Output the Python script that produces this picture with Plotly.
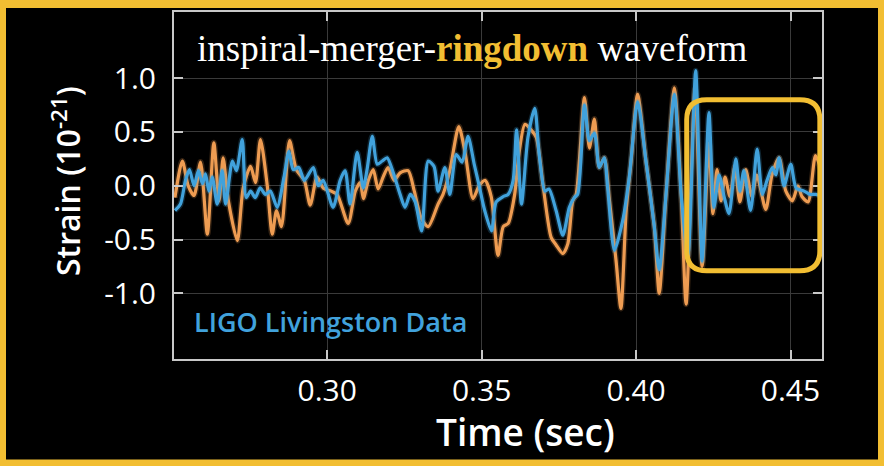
import plotly.graph_objects as go

# LIGO Livingston strain around GW150914 (units of 1e-21), orange and blue traces
t_orange = [
    0.2507, 0.2531, 0.2550, 0.2569, 0.2590, 0.2612, 0.2633, 0.2650, 0.2663, 0.2680,
    0.2709, 0.2728, 0.2752, 0.2768, 0.2784, 0.2806, 0.2822, 0.2836, 0.2852, 0.2878,
    0.2900, 0.2926, 0.2945, 0.2967, 0.2987, 0.3013, 0.3032, 0.3068, 0.3091, 0.3107,
    0.3117, 0.3133, 0.3149, 0.3165, 0.3181, 0.3197, 0.3217, 0.3236, 0.3262, 0.3282,
    0.3304, 0.3327, 0.3359, 0.3375, 0.3397, 0.3426, 0.3447, 0.3472, 0.3492, 0.3511,
    0.3531, 0.3553, 0.3570, 0.3586, 0.3607, 0.3621, 0.3640, 0.3660, 0.3677, 0.3699,
    0.3725, 0.3741, 0.3763, 0.3779, 0.3795, 0.3806, 0.3833, 0.3849, 0.3865, 0.3881,
    0.3897, 0.3914, 0.3935, 0.3951, 0.3968, 0.3984, 0.4005, 0.4032, 0.4059, 0.4075,
    0.4097, 0.4124, 0.4146, 0.4162, 0.4191, 0.4214, 0.4236, 0.4249, 0.4262, 0.4275,
    0.4288, 0.4304, 0.4320, 0.4336, 0.4355, 0.4375, 0.4391, 0.4420, 0.4440, 0.4463,
    0.4485, 0.4506, 0.4524, 0.4537, 0.4557, 0.4581, 0.4599,
]
strain_orange = [
    -0.11, 0.23, 0.00, -0.09, 0.22, -0.45, 0.40, -0.14, 0.26, -0.14,
    -0.51, -0.02, 0.18, 0.03, 0.43, 0.00, -0.45, -0.23, -0.38, 0.42,
    0.15, 0.05, -0.18, 0.08, -0.02, -0.05, -0.08, -0.35, -0.05, 0.03,
    -0.12, 0.05, 0.15, -0.03, 0.08, 0.17, 0.05, 0.12, 0.14, -0.05,
    -0.30, -0.38, -0.17, -0.08, 0.14, 0.55, 0.30, -0.12, 0.00, 0.05,
    -0.10, -0.65, -0.38, -0.35, -0.08, 0.30, 0.57, 0.52, 0.45, 0.00,
    -0.48, -0.55, -0.63, -0.54, -0.14, -0.08, 0.82, 0.35, 0.62, 0.17,
    0.26, -0.14, -0.69, -1.14, -0.23, 0.23, 0.85, 0.23, -0.38, -1.00,
    -0.08, 0.91, -0.08, -1.10, 0.90, -0.75, 0.40, -0.26, 0.15, -0.14,
    0.08, -0.10, 0.18, -0.15, 0.15, -0.10, 0.10, -0.22, 0.10, 0.26,
    -0.05, -0.14, 0.00, -0.10, -0.15, 0.28, 0.15,
]

t_blue = [
    0.2507, 0.2525, 0.2541, 0.2554, 0.2569, 0.2583, 0.2596, 0.2606, 0.2617, 0.2628,
    0.2644, 0.2660, 0.2671, 0.2693, 0.2706, 0.2725, 0.2738, 0.2752, 0.2767, 0.2783,
    0.2800, 0.2816, 0.2838, 0.2860, 0.2876, 0.2890, 0.2908, 0.2926, 0.2955, 0.2971,
    0.2987, 0.3019, 0.3042, 0.3058, 0.3074, 0.3097, 0.3117, 0.3129, 0.3146, 0.3162,
    0.3178, 0.3194, 0.3214, 0.3236, 0.3252, 0.3269, 0.3285, 0.3306, 0.3327, 0.3346,
    0.3359, 0.3381, 0.3397, 0.3418, 0.3437, 0.3456, 0.3476, 0.3492, 0.3510, 0.3532,
    0.3547, 0.3570, 0.3586, 0.3602, 0.3613, 0.3629, 0.3650, 0.3672, 0.3686, 0.3705,
    0.3718, 0.3741, 0.3763, 0.3784, 0.3800, 0.3811, 0.3833, 0.3849, 0.3865, 0.3881,
    0.3897, 0.3908, 0.3930, 0.3957, 0.3978, 0.4005, 0.4032, 0.4059, 0.4075, 0.4097,
    0.4124, 0.4146, 0.4168, 0.4193, 0.4214, 0.4236, 0.4252, 0.4269, 0.4285, 0.4301,
    0.4323, 0.4336, 0.4349, 0.4371, 0.4392, 0.4409, 0.4424, 0.4441, 0.4453, 0.4463,
    0.4479, 0.4501, 0.4518, 0.4544, 0.4563, 0.4582, 0.4602,
]
strain_blue = [
    -0.23, -0.17, 0.05, 0.15, 0.00, 0.14, 0.02, 0.11, -0.05, 0.08,
    -0.17, 0.14, -0.17, 0.23, 0.14, 0.43, -0.11, -0.05, -0.11, -0.02,
    -0.08, -0.05, -0.20, 0.08, 0.32, 0.15, 0.17, 0.05, 0.17, 0.00,
    0.05, -0.20, 0.05, 0.14, -0.17, 0.31, -0.02, 0.15, 0.46, 0.20,
    0.23, 0.26, 0.12, -0.08, -0.20, -0.08, -0.15, -0.42, 0.23, 0.18,
    -0.05, 0.17, -0.08, 0.29, 0.22, 0.46, 0.20, 0.00, -0.23, -0.42,
    -0.15, -0.10, -0.08, 0.05, 0.52, -0.17, 0.45, 0.72, 0.30, -0.05,
    -0.03, -0.23, -0.46, -0.20, -0.11, -0.08, 0.75, 0.42, 0.49, 0.17,
    0.26, -0.02, -0.60, -0.32, 0.08, 0.78, 0.23, -0.38, -0.78, -0.08,
    0.85, -0.08, -0.65, 1.07, -0.70, 0.68, -0.20, 0.10, -0.10, -0.26,
    0.25, -0.05, 0.14, -0.23, 0.34, -0.08, 0.05, 0.17, 0.10, 0.26,
    0.00, 0.20, -0.02, -0.05, -0.08, -0.08, -0.10,
]

x_ticks = [0.30, 0.35, 0.40, 0.45]
x_tick_text = ["0.30", "0.35", "0.40", "0.45"]
y_ticks = [-1.0, -0.5, 0.0, 0.5, 1.0]
y_tick_text = ["-1.0", "-0.5", "0.0", "0.5", "1.0"]

# ringdown window (time span and strain span of the highlight box)
ring_t = [0.4164, 0.4595]
ring_s = [-0.79, 0.80]

GOLD = "#F2BE32"
ORANGE = "#EE9C52"
BLUE = "#41A2DC"
FRAME = "#C8C8C8"
W, H = 884, 466
ML, MR, MT, MB = 174, 62, 10, 107

fig = go.Figure()

for t, s, col in ((t_orange, strain_orange, ORANGE), (t_blue, strain_blue, BLUE)):
    # soft halo under a brighter core line
    fig.add_trace(go.Scatter(
        x=t, y=s, mode="lines",
        line=dict(color=col, width=6, shape="spline", smoothing=0.7),
        opacity=0.22, hoverinfo="skip", showlegend=False,
    ))
    fig.add_trace(go.Scatter(
        x=t, y=s, mode="lines",
        line=dict(color=col, width=3.2, shape="spline", smoothing=0.7),
        hoverinfo="skip", showlegend=False,
    ))

# rounded highlight box around the ringdown, in data units
x0, x1 = ring_t
y0, y1 = ring_s
rx = 20 / 3090
ry = 20 / 108.3
path = (
    f"M {x0 + rx},{y1} L {x1 - rx},{y1} Q {x1},{y1} {x1},{y1 - ry} "
    f"L {x1},{y0 + ry} Q {x1},{y0} {x1 - rx},{y0} "
    f"L {x0 + rx},{y0} Q {x0},{y0} {x0},{y0 + ry} "
    f"L {x0},{y1 - ry} Q {x0},{y1} {x0 + rx},{y1} Z"
)
fig.add_shape(type="path", path=path, xref="x", yref="y",
              line=dict(color=GOLD, width=5), layer="above")

# gold frame around the whole figure
pw, ph = W - ML - MR, H - MT - MB
fig.add_shape(type="rect", xref="paper", yref="paper",
              x0=-ML / pw, x1=1 + MR / pw, y0=-MB / ph, y1=1 + MT / ph,
              line=dict(color=GOLD, width=12), layer="above")

fig.add_annotation(
    text="inspiral-merger-<b><span style='color:%s'>ringdown</span></b> waveform" % GOLD,
    xref="paper", yref="paper", x=(472 - ML) / pw, y=(H - MB - 47) / ph,
    showarrow=False, xanchor="center", yanchor="middle",
    font=dict(family="Liberation Serif", size=37, color="white"),
)
fig.add_annotation(
    text="LIGO Livingston Data", xref="paper", yref="paper",
    x=(192 - ML) / pw, y=(H - MB - 321) / ph, showarrow=False,
    xanchor="left", yanchor="middle",
    font=dict(family="Open Sans", size=27, color=BLUE, weight=600),
)
fig.add_annotation(
    text="Strain (10<sup>-21</sup>)", xref="paper", yref="paper",
    x=(66 - ML) / pw, y=(H - MB - 180) / ph, textangle=-90, showarrow=False,
    xanchor="center", yanchor="middle",
    font=dict(family="Open Sans", size=32, color="white", weight=600),
)
fig.add_annotation(
    text="Time (sec)", xref="paper", yref="paper",
    x=(525 - ML) / pw, y=(H - MB - 432) / ph, showarrow=False,
    xanchor="center", yanchor="middle",
    font=dict(family="Open Sans", size=37, color="white", weight=600),
)

axis_common = dict(
    showline=True, linecolor=FRAME, linewidth=2, mirror="ticks",
    ticks="inside", ticklen=9, tickwidth=2, tickcolor=FRAME,
    showgrid=True, gridcolor="#3a3a3a", gridwidth=1, zeroline=False,
    tickfont=dict(family="Open Sans", size=30, color="white", weight=500),
)
fig.update_xaxes(range=[0.2504, 0.4602], tickvals=x_ticks, ticktext=x_tick_text,
                 ticklabelstandoff=4, **axis_common)
fig.update_yaxes(range=[-1.61, 1.615], tickvals=y_ticks, ticktext=y_tick_text,
                 ticklabelstandoff=10, **axis_common)

fig.update_layout(
    width=W, height=H, margin=dict(l=ML, r=MR, t=MT, b=MB),
    paper_bgcolor="black", plot_bgcolor="black",
    showlegend=False, hovermode=False,
)

fig.write_html("out.html", config={"displayModeBar": False})
